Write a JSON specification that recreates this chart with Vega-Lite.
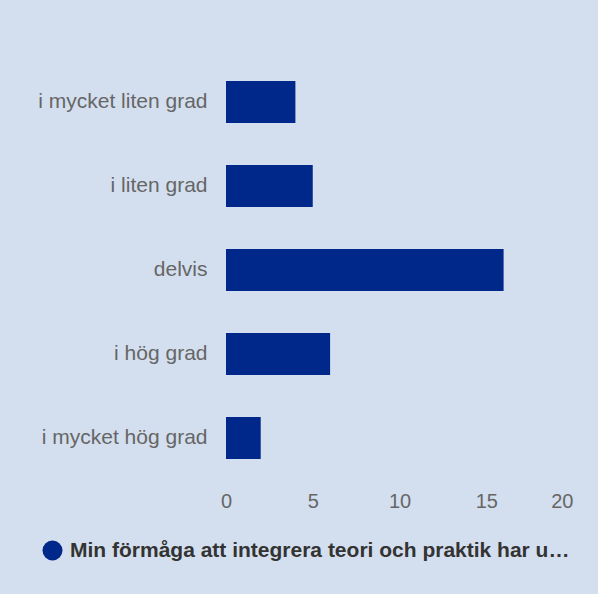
{
  "$schema": "https://vega.github.io/schema/vega-lite/v6.json",
  "autosize": {"type": "none"},
  "width": 347,
  "height": 420,
  "padding": {"left": 226, "top": 60, "right": 25, "bottom": 114},
  "background": "#d3dfee",
  "config": {
    "view": {"stroke": null},
    "font": "Liberation Sans"
  },
  "data": {
    "values": [
      {"kategori": "i mycket liten grad", "antal": 4, "serie": "Min förmåga att integrera teori och praktik har u…"},
      {"kategori": "i liten grad", "antal": 5, "serie": "Min förmåga att integrera teori och praktik har u…"},
      {"kategori": "delvis", "antal": 16, "serie": "Min förmåga att integrera teori och praktik har u…"},
      {"kategori": "i hög grad", "antal": 6, "serie": "Min förmåga att integrera teori och praktik har u…"},
      {"kategori": "i mycket hög grad", "antal": 2, "serie": "Min förmåga att integrera teori och praktik har u…"}
    ]
  },
  "mark": {"type": "bar"},
  "encoding": {
    "y": {
      "field": "kategori",
      "type": "nominal",
      "sort": ["i mycket liten grad", "i liten grad", "delvis", "i hög grad", "i mycket hög grad"],
      "scale": {"paddingInner": 0.5, "paddingOuter": 0.25},
      "axis": {
        "title": null,
        "domain": false,
        "ticks": false,
        "tickSize": 0,
        "labelPadding": 19,
        "labelFontSize": 21,
        "labelColor": "#666666",
        "labelFont": "Liberation Sans",
        "labelLimit": 300
      }
    },
    "x": {
      "field": "antal",
      "type": "quantitative",
      "scale": {"domain": [0, 20], "nice": false},
      "axis": {
        "title": null,
        "values": [0, 5, 10, 15, 20],
        "domain": false,
        "ticks": false,
        "tickSize": 0,
        "grid": false,
        "labelPadding": 11,
        "labelFontSize": 20,
        "labelColor": "#666666",
        "labelFont": "Liberation Sans",
        "labelFlush": false,
        "labelAlign": {"expr": "datum.value === 20 ? 'right' : 'center'"}
      }
    },
    "color": {
      "field": "serie",
      "type": "nominal",
      "scale": {"range": ["#00288a"]},
      "legend": {
        "title": null,
        "orient": "none",
        "legendX": -184,
        "legendY": 480,
        "padding": 0,
        "symbolType": "circle",
        "symbolSize": 400,
        "symbolStrokeWidth": 0,
        "symbolOpacity": 1,
        "labelFontSize": 21,
        "labelFontWeight": "bold",
        "labelColor": "#333333",
        "labelFont": "Liberation Sans",
        "labelOffset": 7,
        "labelLimit": 0
      }
    }
  }
}
